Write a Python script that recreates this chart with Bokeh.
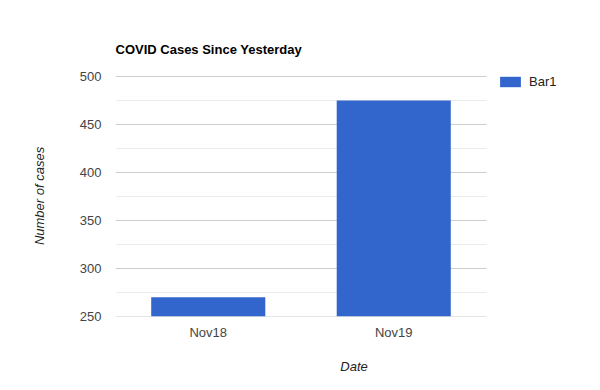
from bokeh.plotting import figure
from bokeh.models import Range1d, Legend, LegendItem, FixedTicker, ColumnDataSource
from bokeh.embed import file_html
from bokeh.resources import INLINE

dates = ["Nov18", "Nov19"]
cases = [270, 475]
y_ticks = [250, 300, 350, 400, 450, 500]
y_minor = [(a + b) / 2 for a, b in zip(y_ticks[:-1], y_ticks[1:])]

FONT = "Liberation Sans"

x_pos = [i + 0.5 for i in range(len(dates))]
n = len(dates)
# frame 477 px wide; the category area is 371 px (2 categories), the rest holds the legend
p = figure(width=592, height=382, x_range=Range1d(0, n * 477 / 371), y_range=Range1d(250, 501),
           output_backend="svg", toolbar_location=None,
           min_border_left=115, min_border_right=0, min_border_top=75, min_border_bottom=66)
p.outline_line_color = None

p.title.text = "COVID Cases Since Yesterday"
p.title.text_font = FONT
p.title.text_font_size = "13px"
p.title.text_font_style = "bold"
p.title.text_color = "#000000"
p.title.align = "left"
p.title.standoff = 37

# grid lines limited to the category area
p.xgrid.visible = False
p.ygrid.visible = False
p.segment(x0=0, x1=n, y0=y_minor, y1=y_minor, line_color="#ebebeb", line_width=1)
p.segment(x0=0, x1=n, y0=y_ticks, y1=y_ticks, line_color="#cccccc", line_width=1)

src = ColumnDataSource(dict(x=x_pos, top=cases))
r = p.vbar(x="x", top="top", bottom=250, width=0.615, source=src, color="#3366cc", line_color=None)

p.yaxis.ticker = FixedTicker(ticks=y_ticks)
p.xaxis.ticker = FixedTicker(ticks=x_pos)
p.xaxis.major_label_overrides = {x: d for x, d in zip(x_pos, dates)}

for ax in (p.xaxis, p.yaxis):
    ax.axis_line_color = None
    ax.major_tick_line_color = None
    ax.minor_tick_line_color = None
    ax.major_label_text_font = FONT
    ax.major_label_text_font_size = "13px"
    ax.major_label_text_color = "#444444"
    ax.axis_label_text_font = FONT
    ax.axis_label_text_font_size = "13px"
    ax.axis_label_text_font_style = "italic"
    ax.axis_label_text_color = "#222222"

p.xaxis.axis_label = "Date"
p.yaxis.axis_label = "Number of cases"
p.xaxis.major_label_standoff = 2
p.xaxis.axis_label_standoff = 16
p.yaxis.major_label_standoff = 8
p.yaxis.axis_label_standoff = 30

legend = Legend(items=[LegendItem(label="Bar1", renderers=[r])], location=(382, 227),
                glyph_width=26, glyph_height=13, label_text_font=FONT, label_text_font_size="13px",
                label_text_color="#222222", border_line_color=None, background_fill_alpha=0,
                padding=0, margin=0, spacing=0, label_standoff=6, label_height=14, label_width=60)
p.add_layout(legend)

open("out.html", "w").write(file_html(p, INLINE))
